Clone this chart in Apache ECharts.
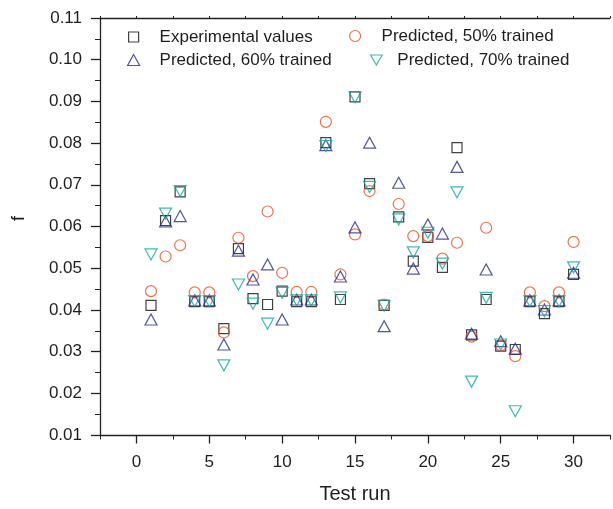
<!DOCTYPE html>
<html>
<head>
<meta charset="utf-8">
<script src="https://cdn.jsdelivr.net/npm/echarts@6/dist/echarts.min.js"></script>
<style>
  html, body { margin: 0; padding: 0; background: #fff; }
  #chart { width: 613px; height: 509px; }
</style>
</head>
<body>
<div id="chart"></div>
<script>
  // test runs on the x axis
  const runs = [1, 2, 3, 4, 5, 6, 7, 8, 9, 10, 11, 12, 13, 14, 15, 16, 17, 18, 19, 20, 21, 22, 23, 24, 25, 26, 27, 28, 29, 30]
  const experimental = [0.0411, 0.0614, 0.0683, 0.0420, 0.0420, 0.0355, 0.0547, 0.0427, 0.0413, 0.0445, 0.0420, 0.0420, 0.0801, 0.0425, 0.0911,
    0.0703, 0.0411, 0.0623, 0.0517, 0.0574, 0.0502, 0.0789, 0.0340, 0.0425, 0.0313, 0.0305, 0.0420, 0.0391, 0.0420, 0.0485]
  const pred50 = [0.0445, 0.0528, 0.0555, 0.0442, 0.0442, 0.0346, 0.0573, 0.0481, 0.0636, 0.0489, 0.0443, 0.0443, 0.0851, 0.0485, 0.0581,
    0.0685, 0.0413, 0.0654, 0.0577, 0.0577, 0.0523, 0.0561, 0.0336, 0.0597, 0.0315, 0.0289, 0.0442, 0.0409, 0.0442, 0.0563]
  const pred60 = [0.0377, 0.0612, 0.0625, 0.0423, 0.0423, 0.0317, 0.0542, 0.0473, 0.0509, 0.0377, 0.0425, 0.0425, 0.0795, 0.0480, 0.0598,
    0.0801, 0.0361, 0.0705, 0.0499, 0.0605, 0.0583, 0.0743, 0.0343, 0.0497, 0.0325, 0.0307, 0.0423, 0.0401, 0.0423, 0.0489]
  const pred70 = [0.0533, 0.0631, 0.0685, 0.0421, 0.0421, 0.0267, 0.0461, 0.0415, 0.0367, 0.0441, 0.0423, 0.0423, 0.0793, 0.0430, 0.0910,
    0.0695, 0.0410, 0.0617, 0.0538, 0.0585, 0.0511, 0.0682, 0.0228, 0.0429, 0.0317, 0.0157, 0.0421, 0.0397, 0.0421, 0.0502]
  // axis ticks
  const xMajorTicks = [0, 5, 10, 15, 20, 25, 30]
  const seriesNames = ['Experimental values', 'Predicted, 50% trained', 'Predicted, 60% trained', 'Predicted, 70% trained']

  const font = 'Liberation Sans, Arial, sans-serif'
  const axisColor = '#222'
  const textColor = '#1e1e1e'
  // upside-down triangle
  const downTriangle = 'path://M0,0L2,0L1,1.732Z'

  const pairs = (vals) => runs.map((r, i) => [r, vals[i]])

  const legendText = { color: textColor, fontSize: 17, fontFamily: font, lineHeight: 20 }

  const makeLegend = (name, left, top, pad, w, h) => ({
    data: [name],
    left: left,
    top: top,
    orient: 'horizontal',
    selectedMode: false,
    itemWidth: w,
    itemHeight: h,
    padding: 0,
    itemStyle: { borderWidth: 1.2 },
    textStyle: Object.assign({ padding: [0, 0, 0, pad] }, legendText)
  })

  const scatter = (name, vals, symbol, size, color) => ({
    name: name,
    type: 'scatter',
    data: pairs(vals),
    symbol: symbol,
    symbolSize: size,
    itemStyle: {
      color: 'rgba(0,0,0,0)',
      borderColor: color,
      borderWidth: 1.2
    },
    emphasis: { disabled: true },
    silent: true
  })

  const myChart = echarts.init(document.getElementById('chart'))

  const option = {
    animation: false,
    grid: { left: 100, top: 18, right: 0, bottom: 73 },
    legend: [
      makeLegend(seriesNames[0], 128, 27, 16, 10, 10),
      makeLegend(seriesNames[1], 349, 26, 16, 11, 11),
      makeLegend(seriesNames[2], 127, 50, 15, 12, 11),
      makeLegend(seriesNames[3], 370, 50, 10, 12, 10)
    ],
    xAxis: [
      {
        // minor ticks + labels
        type: 'value',
        min: -2.5,
        max: 32.5,
        interval: 2.5,
        position: 'bottom',
        name: 'Test run',
        nameLocation: 'middle',
        nameGap: 49,
        nameTextStyle: { color: textColor, fontSize: 20, fontFamily: font },
        axisLine: { show: true, onZero: false, lineStyle: { color: axisColor, width: 1.3 } },
        axisTick: { show: true, length: 4.5, lineStyle: { color: axisColor, width: 1 } },
        axisLabel: {
          color: textColor,
          fontSize: 17,
          fontFamily: font,
          margin: 19,
          formatter: (v) => (v >= 0 && v <= 30 && v % 5 === 0 ? String(v) : '')
        },
        splitLine: { show: false }
      },
      {
        // major ticks
        type: 'value',
        min: -2.5,
        max: 32.5,
        position: 'bottom',
        axisLine: { show: false, onZero: false },
        axisTick: { show: true, length: 8.5, customValues: xMajorTicks, lineStyle: { color: axisColor, width: 1.3 } },
        axisLabel: { show: false },
        splitLine: { show: false }
      },
      {
        // top frame
        type: 'value',
        min: -2.5,
        max: 32.5,
        interval: 2.5,
        position: 'top',
        axisLine: { show: true, onZero: false, lineStyle: { color: axisColor, width: 1.3 } },
        axisTick: { show: true, length: 2, lineStyle: { color: axisColor } },
        axisLabel: { show: false },
        splitLine: { show: false }
      }
    ],
    yAxis: {
      type: 'value',
      min: 0.01,
      max: 0.11,
      interval: 0.01,
      name: 'f',
      nameLocation: 'middle',
      nameGap: 72,
      nameTextStyle: { color: textColor, fontSize: 18, fontFamily: font, padding: [0, 0, 0, 16] },
      axisLine: { show: true, onZero: false, lineStyle: { color: axisColor, width: 1.3 } },
      axisTick: { show: true, length: 9, lineStyle: { color: axisColor, width: 1.3 } },
      minorTick: { show: true, splitNumber: 2, length: 5, lineStyle: { color: axisColor, width: 1 } },
      axisLabel: {
        color: textColor,
        fontSize: 17,
        fontFamily: font,
        margin: 18,
        formatter: (v) => v.toFixed(2)
      },
      splitLine: { show: false }
    },
    series: [
      scatter(seriesNames[0], experimental, 'rect', [10, 10], '#111111'),
      scatter(seriesNames[1], pred50, 'circle', 11, '#f04e23'),
      scatter(seriesNames[2], pred60, 'triangle', [12, 11], '#262a8c'),
      scatter(seriesNames[3], pred70, downTriangle, [12, 11], '#10a7a0')
    ]
  }

  myChart.setOption(option)
</script>
</body>
</html>
